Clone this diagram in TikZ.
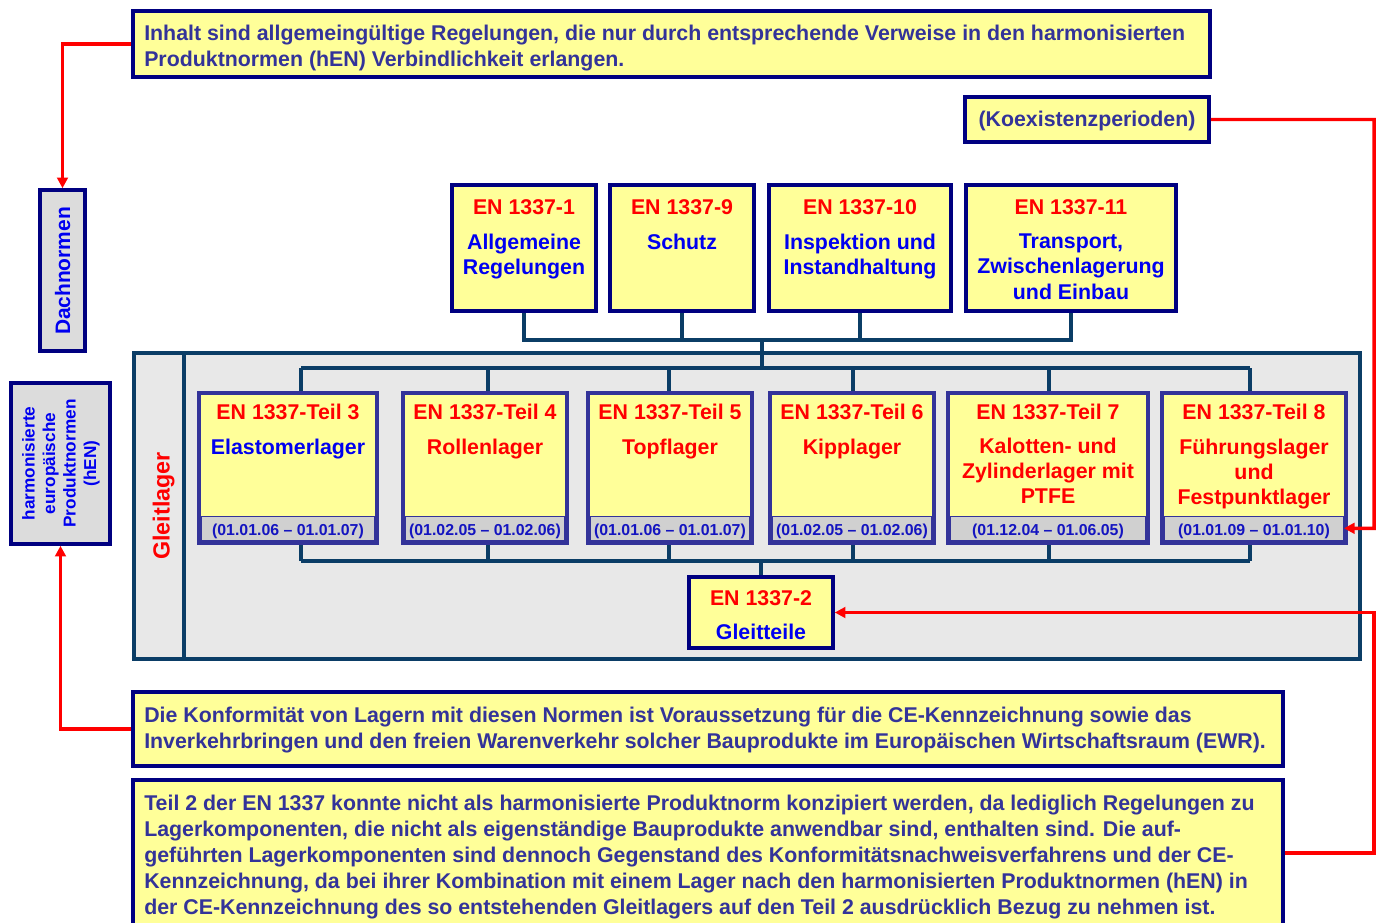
\documentclass[tikz,border=0pt]{standalone}
\usepackage{fontspec}
\setmainfont{Liberation Sans}
\usetikzlibrary{fit,arrows.meta}
\definecolor{yel}{HTML}{FFFF99}
\definecolor{navy}{HTML}{000080}
\definecolor{slate}{HTML}{333399}
\definecolor{paratxt}{HTML}{333399}
\definecolor{tealline}{HTML}{0B3D66}
\definecolor{grpfill}{HTML}{E8E8E8}
\definecolor{boxgray}{HTML}{DCDCDC}
\definecolor{bandgray}{HTML}{D0D0D0}
\definecolor{redc}{HTML}{FF0000}
\definecolor{bluec}{HTML}{0000F0}
\definecolor{datec}{HTML}{1414C0}
\tikzset{
 ybox/.style={draw=navy, fill=yel, line width=2.7pt, inner sep=0pt},
 gbox/.style={draw=navy, fill=boxgray, line width=2.7pt, inner sep=0pt},
 bbox/.style={draw=slate, fill=yel, line width=3.6pt, inner sep=0pt},
 band/.style={draw=slate, fill=bandgray, line width=0.7pt, inner sep=0pt},
 grp/.style={draw=tealline, fill=grpfill, line width=2.6pt, inner sep=0pt},
 conn/.style={draw=tealline, line width=2.6pt},
 redarr/.style={draw=redc, line width=2.6pt, -{Triangle[length=8pt,width=8pt]}},
 para/.style={anchor=north west, inner sep=0pt, align=left, text=paratxt, font=\fontsize{16pt}{19.5pt}\selectfont\bfseries},
 ttl/.style={anchor=north, inner sep=0pt, text=redc, font=\fontsize{16pt}{19pt}\selectfont\bfseries},
 subb/.style={anchor=north, inner sep=0pt, align=center, text=bluec, font=\fontsize{16pt}{19pt}\selectfont\bfseries},
 subr/.style={subb, text=redc},
 datet/.style={anchor=north, inner sep=0pt, text=datec, font=\fontsize{11.9pt}{14pt}\selectfont\bfseries},
 vtxt/.style={rotate=90, inner sep=0pt, text=bluec},
}
\begin{document}
\begin{tikzpicture}[x=0.75pt,y=-0.75pt]
\useasboundingbox (0,0) rectangle (1380,923);
\clip (0,0) rectangle (1380,923);

% top explanatory box
\node[ybox, fit={(133,11) (1210,77)}] (topb) {};
\node[para] (topt) at (144,24.5) {Inhalt sind allgemeingültige Regelungen, die nur durch entsprechende Verweise in den harmonisierten\\Produktnormen (hEN) Verbindlichkeit erlangen.};

% Koexistenzperioden
\node[ybox, fit={(965,97) (1209,142)}] (koex) {};
\node[para, anchor=center] (koext) at (1087,121) {(Koexistenzperioden)};

% Dachnormen
\node[gbox, fit={(40,190) (85,351)}] (dach) {};
\node[vtxt, anchor=base, font=\fontsize{15.7pt}{18pt}\selectfont\bfseries] (dacht) at (70,271) {Dachnormen};

% hEN
\node[gbox, fit={(11,383) (110,544)}] (hen) {};
\node[vtxt, align=center, font=\fontsize{12.9pt}{15.4pt}\selectfont\bfseries] (hent) at (61,463.5) {harmonisierte\\europäische\\Produktnormen\\(hEN)};

% group Gleitlager
\node[grp, fit={(134,353) (1360,659)}] (grp) {};
\coordinate (divx) at (184,0);
\draw[conn] (grp.north -| divx) -- (grp.south -| divx);
\node[rotate=90, anchor=base, inner sep=0pt, text=redc, font=\fontsize{17.5pt}{20pt}\selectfont\bfseries] (gleit) at (169.5,506) {Gleitlager};

% top row boxes
\node[ybox, fit={(452,185) (596,311)}] (n1) {};
\node[ybox, fit={(610,185) (754,311)}] (n9) {};
\node[ybox, fit={(769,185) (951,311)}] (n10) {};
\node[ybox, fit={(966,185) (1176,311)}] (n11) {};
\node[ttl] (n1t) at (524,199.5) {EN 1337-1};
\node[subb] (n1s) at (524,233.5) {Allgemeine\\Regelungen};
\node[ttl] (n9t) at (682,199.5) {EN 1337-9};
\node[subb] (n9s) at (682,233.5) {Schutz};
\node[ttl] (n10t) at (860,199.5) {EN 1337-10};
\node[subb] (n10s) at (860,233.5) {Inspektion und\\Instandhaltung};
\node[ttl] (n11t) at (1071,199.5) {EN 1337-11};
\node[subb] (n11s) at (1071,233.5) {Transport,\\Zwischenlagerung\\und Einbau};

% connectors of the top row
\coordinate (tbus) at (762,340);
\draw[conn] (n1.south) |- (tbus);
\draw[conn] (n11.south) |- (tbus);
\draw[conn] (n9.south) -- (n9.south |- tbus);
\draw[conn] (n10.south) -- (n10.south |- tbus);

% bus inside group
\coordinate (ub3) at (301,368);
\coordinate (ub4) at (488,368);
\coordinate (ub5) at (669,368);
\coordinate (ub6) at (853,368);
\coordinate (ub7) at (1049,368);
\coordinate (ub8) at (1250,368);
\coordinate (lb3) at (301,561);
\coordinate (lb4) at (488,561);
\coordinate (lb5) at (669,561);
\coordinate (lb6) at (853,561);
\coordinate (lb7) at (1049,561);
\coordinate (lb8) at (1250,561);
\coordinate (lbm) at (761,561);
\draw[conn] (tbus) -- (tbus |- ub3);
\draw[conn] (ub3) -- (ub8);
\draw[conn] (lb3) -- (lb8);

% lower boxes
\node[bbox, fit={(199,393) (377,543)}] (t3) {};
\node[bbox, fit={(403,393) (567,543)}] (t4) {};
\node[bbox, fit={(588,393) (752,543)}] (t5) {};
\node[bbox, fit={(770,393) (934,543)}] (t6) {};
\node[bbox, fit={(948,393) (1148,543)}] (t7) {};
\node[bbox, fit={(1162,393) (1346,543)}] (t8) {};
\foreach \i in {3,...,8}{
  \draw[conn] (ub\i) -- (ub\i |- t\i.north);
  \draw[conn] (lb\i) -- (lb\i |- t\i.south);
}
\node[band, fit={(201.5,516) (374.5,540.6)}] (t3d) {};
\node[band, fit={(405.5,516) (564.5,540.6)}] (t4d) {};
\node[band, fit={(590.5,516) (749.5,540.6)}] (t5d) {};
\node[band, fit={(772.5,516) (931.5,540.6)}] (t6d) {};
\node[band, fit={(950.5,516) (1145.5,540.6)}] (t7d) {};
\node[band, fit={(1164.5,516) (1343.5,540.6)}] (t8d) {};

\node[ttl] (t3t) at (288,404) {EN 1337-Teil 3};
\node[subb] (t3s) at (288,438.5) {Elastomerlager};
\node[datet] (t3dt) at (288,524) {(01.01.06 – 01.01.07)};
\node[ttl] (t4t) at (485,404) {EN 1337-Teil 4};
\node[subr] (t4s) at (485,438.5) {Rollenlager};
\node[datet] (t4dt) at (485,524) {(01.02.05 – 01.02.06)};
\node[ttl] (t5t) at (670,404) {EN 1337-Teil 5};
\node[subr] (t5s) at (670,438.5) {Topflager};
\node[datet] (t5dt) at (670,524) {(01.01.06 – 01.01.07)};
\node[ttl] (t6t) at (852,404) {EN 1337-Teil 6};
\node[subr] (t6s) at (852,438.5) {Kipplager};
\node[datet] (t6dt) at (852,524) {(01.02.05 – 01.02.06)};
\node[ttl] (t7t) at (1048,404) {EN 1337-Teil 7};
\node[subr, font=\fontsize{16pt}{18.8pt}\selectfont\bfseries] (t7s) at (1048,437.5) {Kalotten- und\\Zylinderlager mit\\PTFE};
\node[datet] (t7dt) at (1048,524) {(01.12.04 – 01.06.05)};
\node[ttl] (t8t) at (1254,404) {EN 1337-Teil 8};
\node[subr, font=\fontsize{16pt}{18.8pt}\selectfont\bfseries] (t8s) at (1254,439) {Führungslager\\und\\Festpunktlager};
\node[datet] (t8dt) at (1254,524) {(01.01.09 – 01.01.10)};

% EN 1337-2
\node[ybox, fit={(689,577) (833,648)}] (en2) {};
\draw[conn] (lbm) -- (en2.north);
\node[ttl] (en2t) at (761,590) {EN 1337-2};
\node[subb] (en2s) at (761,624) {Gleitteile};

% bottom boxes
\node[ybox, fit={(133,692) (1283,766)}] (konf) {};
\node[para] (konft) at (144,706.6) {Die Konformität von Lagern mit diesen Normen ist Voraussetzung für die CE-Kennzeichnung sowie das\\Inverkehrbringen und den freien Warenverkehr solcher Bauprodukte im Europäischen Wirtschaftsraum (EWR).};
\node[ybox, fit={(133,780) (1283,926)}] (t2b) {};
\node[para] (t2t) at (144,794.6) {Teil 2 der EN 1337 konnte nicht als harmonisierte Produktnorm konzipiert werden, da lediglich Regelungen zu\\Lagerkomponenten, die nicht als eigenständige Bauprodukte anwendbar sind, enthalten sind. Die auf-\\geführten Lagerkomponenten sind dennoch Gegenstand des Konformitätsnachweisverfahrens und der CE-\\Kennzeichnung, da bei ihrer Kombination mit einem Lager nach den harmonisierten Produktnormen (hEN) in\\der CE-Kennzeichnung des so entstehenden Gleitlagers auf den Teil 2 ausdrücklich Bezug zu nehmen ist.};

% red arrows
\coordinate (rk) at (1374,528.3);
\coordinate (r2) at (1374,612.5);
\draw[redarr] (topb.west) -| (dach.north);
\draw[redarr] (konf.west) -| (hen.south);
\draw[redarr] (koex.east) -| (rk) -- (t8d.east);
\draw[redarr] (t2b.east) -| (r2) -- (en2.east);
\end{tikzpicture}
\end{document}
